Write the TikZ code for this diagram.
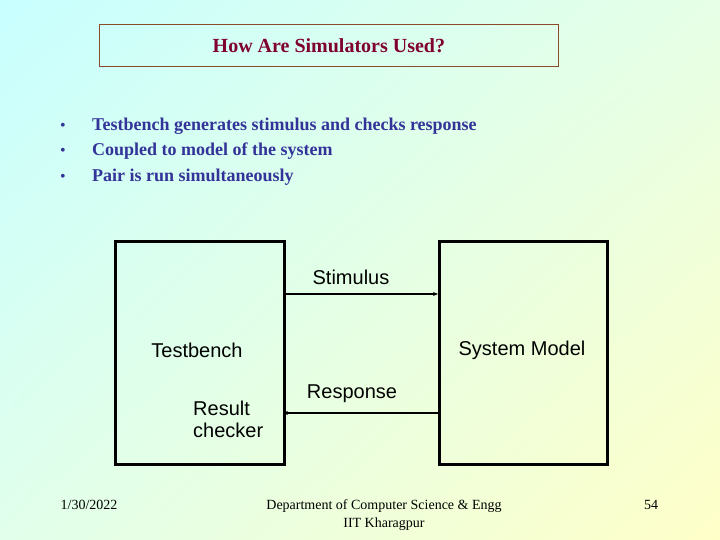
\documentclass[tikz,border=0pt]{standalone}
\usepackage{fontspec}
\setmainfont{Liberation Serif}
\setsansfont{Liberation Sans}
\usetikzlibrary{arrows.meta,shadings}
\definecolor{titlered}{HTML}{800030}
\definecolor{bulletblue}{HTML}{333399}
\definecolor{framebrown}{HTML}{8B4A2A}
\definecolor{bgUL}{RGB}{200,255,255}
\definecolor{bgUR}{RGB}{230,255,230}
\definecolor{bgLL}{RGB}{225,255,235}
\definecolor{bgLR}{RGB}{255,255,200}
\tikzset{
  blockbox/.style={draw=black, line width=2.6pt},
  flow/.style={draw=black, line width=1.6pt, -{Stealth[length=5pt,width=4pt]}},
  lbl/.style={font=\sffamily\fontsize{20}{22}\selectfont, inner sep=0pt},
  bul/.style={font=\bfseries\fontsize{18}{21}\selectfont, text=bulletblue, anchor=west, inner sep=0pt},
  dot/.style={text=bulletblue, font=\fontsize{16}{18}\selectfont, inner sep=0pt, anchor=base},
  foot/.style={font=\fontsize{14}{16}\selectfont, inner sep=0pt}
}
\begin{document}
\begin{tikzpicture}[x=1pt,y=-1pt]
\useasboundingbox (0,0) rectangle (720,540);
\shade[upper left=bgUL, upper right=bgUR, lower left=bgLL, lower right=bgLR]
  (0,0) rectangle (720,540);
% title
\node[draw=framebrown, line width=0.8pt, minimum width=459pt, minimum height=42pt, anchor=north west,
      font=\bfseries\fontsize{20}{22}\selectfont, text=titlered] (title) at (99,24) {How Are Simulators Used?};
% bullets
\node[bul] (b1) at (92,126) {Testbench generates stimulus and checks response};
\node[bul] (b2) at (92,151) {Coupled to model of the system};
\node[bul] (b3) at (92,177) {Pair is run simultaneously};
\node[dot] (d1) at ([xshift=-29pt]b1.base west) {•};
\node[dot] (d2) at ([xshift=-29pt]b2.base west) {•};
\node[dot] (d3) at ([xshift=-29pt]b3.base west) {•};
% blocks
\node[blockbox, minimum width=169pt, minimum height=223pt, anchor=north west] (tb) at (114,240) {};
\node[blockbox, minimum width=168pt, minimum height=223pt, anchor=north west] (sm) at (438,240) {};
\coordinate (s1) at (283,294);
\coordinate (s2) at (438,294);
\coordinate (r1) at (438,413);
\coordinate (r2) at (283,413);
\draw[flow] (s1) -- (s2);
\draw[flow] (r1) -- (r2);
\node[lbl] (stim) at (351,277) {Stimulus};
\node[lbl] (resp) at (352,394) {Response};
\node[lbl] (tbl) at (197,350) {Testbench};
\node[lbl] (sml) at (522,350) {System Model};
\node[lbl, align=left, anchor=north west] (rc) at (193,401) {Result\\checker};
% footer
\node[foot] (date) at (89,505) {1/30/2022};
\node[foot, align=center, font=\fontsize{14}{18}\selectfont, anchor=north] (dept) at (384,499) {Department of Computer Science \& Engg\\IIT Kharagpur};
\node[foot] (pg) at (651,505) {54};
\end{tikzpicture}
\end{document}
